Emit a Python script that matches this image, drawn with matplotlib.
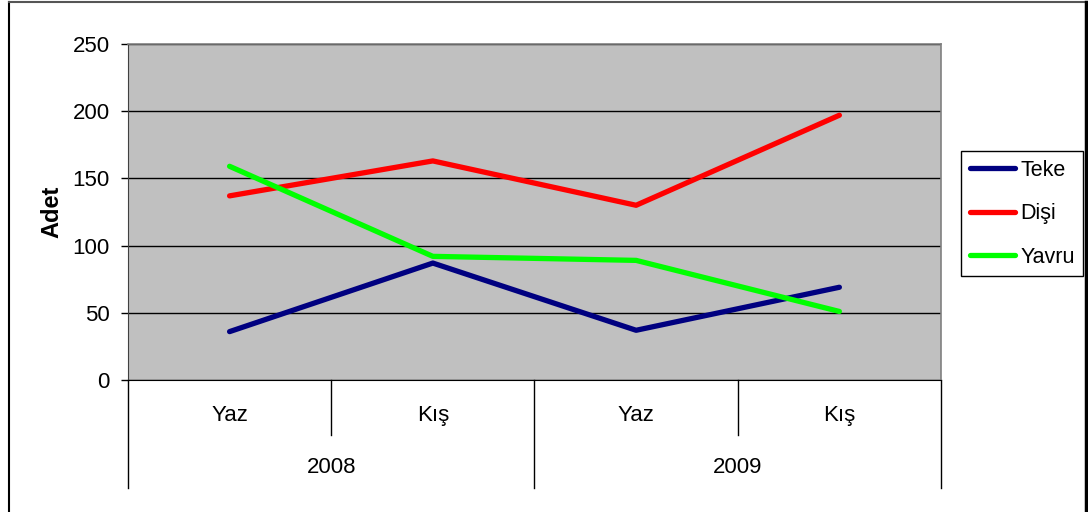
import matplotlib.pyplot as plt
from matplotlib.lines import Line2D
import matplotlib.transforms as mtransforms

plt.rcParams['font.family'] = ['Liberation Sans', 'DejaVu Sans']

# data
seasons = ['Yaz', 'Kış', 'Yaz', 'Kış']
years = ['2008', '2009']
teke = [36, 87, 37, 69]
disi = [137, 163, 130, 197]
yavru = [159, 92, 89, 51]
yticks = [0, 50, 100, 150, 200, 250]

fig = plt.figure(figsize=(10.88, 5.12), dpi=100)
ax = fig.add_axes([0.1176, 0.2578, 0.7473, 0.6563])
ax.set_facecolor('#C0C0C0')

x = range(len(seasons))
ax.plot(x, teke, color='#000080', lw=3.8, label='Teke', solid_capstyle='round', zorder=3)
ax.plot(x, disi, color='#FF0000', lw=3.8, label='Dişi', solid_capstyle='round', zorder=3)
ax.plot(x, yavru, color='#00FF00', lw=3.8, label='Yavru', solid_capstyle='round', zorder=3)

ax.set_xlim(-0.5, 3.5)
ax.set_ylim(0, 250)
ax.set_yticks(yticks)
ax.tick_params(axis='y', labelsize=16, length=5, width=1, pad=8, direction='out')
ax.set_xticks([])
ax.yaxis.grid(True, color='black', lw=1)
ax.set_axisbelow(True)
for s in ['top', 'right']:
    ax.spines[s].set_color('#808080')
    ax.spines[s].set_linewidth(1.2)
ax.spines['left'].set_color('#404040')
ax.spines['bottom'].set_color('black')
ax.set_ylabel('Adet', fontsize=17, fontweight='bold', labelpad=7)

# two-level category axis under the plot
tr = mtransforms.blended_transform_factory(ax.transData, ax.transAxes)
for b in [-0.5, 1.5, 3.5]:
    ax.add_line(Line2D([b, b], [0, -0.3214], transform=tr, color='black', lw=1, clip_on=False))
for b in [0.5, 2.5]:
    ax.add_line(Line2D([b, b], [0, -0.1637], transform=tr, color='black', lw=1, clip_on=False))
for i, s in enumerate(seasons):
    ax.text(i, -0.107, s, transform=tr, ha='center', va='center', fontsize=16)
for j, yr in enumerate(years):
    ax.text(2 * j + 0.5, -0.26, yr, transform=tr, ha='center', va='center', fontsize=16)

fig.legend(loc='upper left', bbox_to_anchor=(0.8833, 0.705), fontsize=15.5,
           frameon=True, fancybox=False, edgecolor='black', framealpha=1,
           handlelength=2.1, handletextpad=0.25, labelspacing=1.05,
           borderpad=0.4, borderaxespad=0)

# chart border
fig.add_artist(Line2D([9 / 1088, 9 / 1088], [0, 1 - 2 / 512], color='black', lw=1.5))
fig.add_artist(Line2D([9 / 1088, 1086 / 1088], [1 - 2 / 512, 1 - 2 / 512], color='#555555', lw=1.5))
fig.add_artist(Line2D([1086 / 1088, 1086 / 1088], [0, 1 - 2 / 512], color='black', lw=2.5))

fig.savefig('out.png', dpi=100)
